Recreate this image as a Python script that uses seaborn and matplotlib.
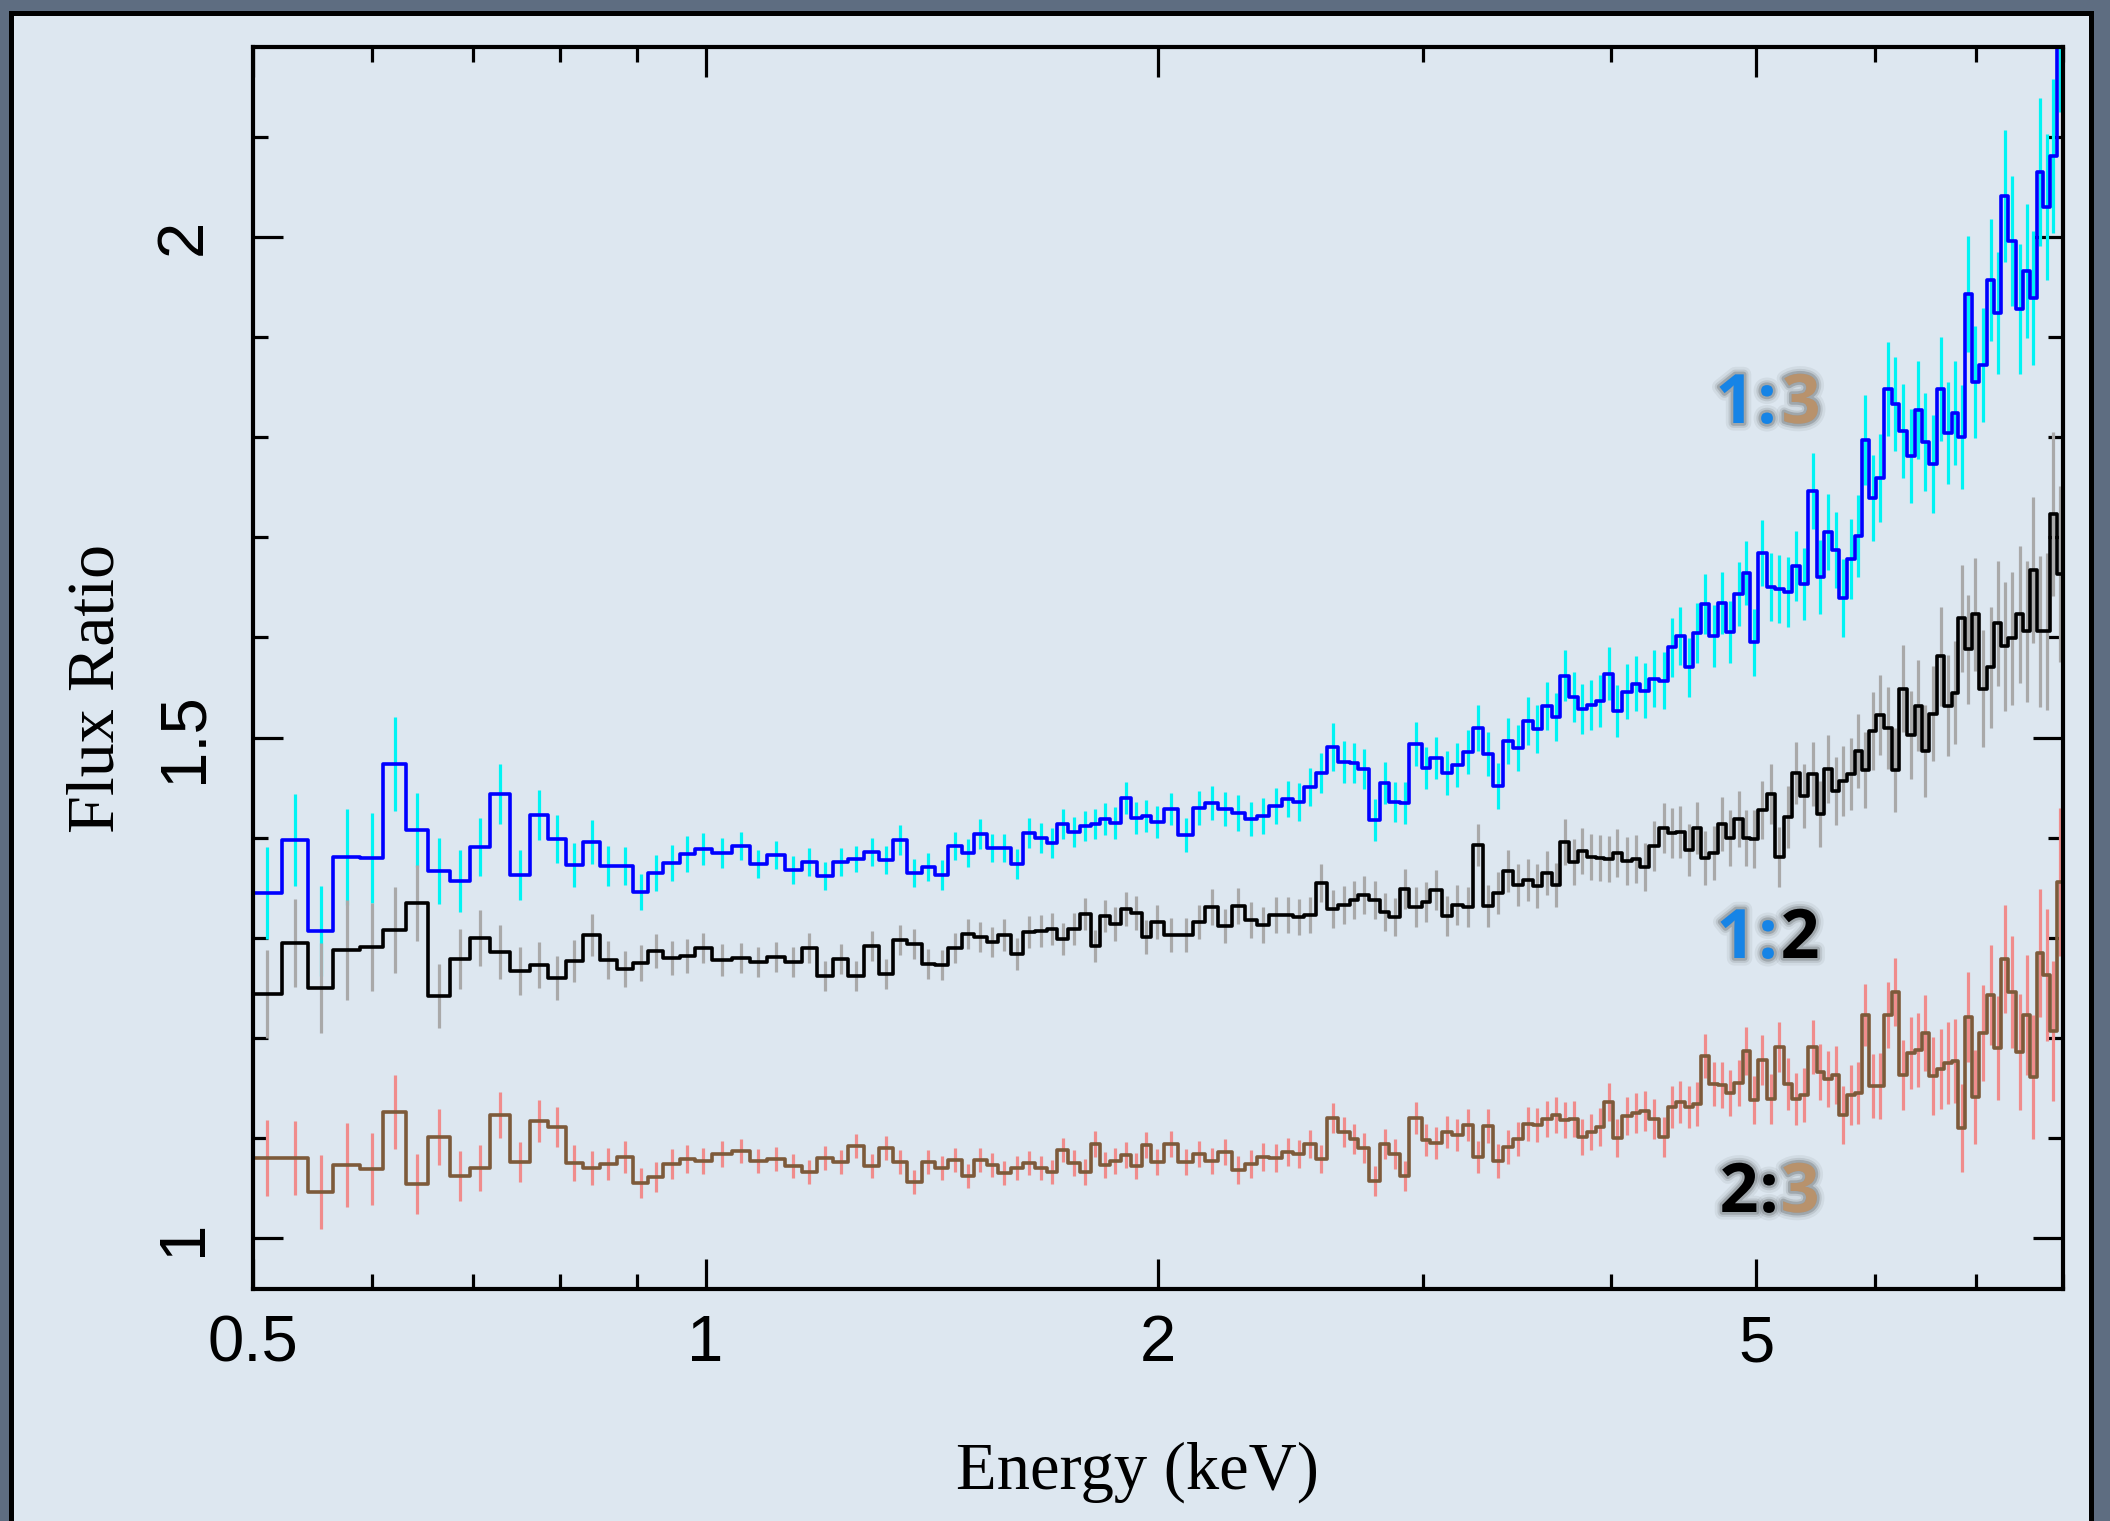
import numpy as np
import matplotlib
matplotlib.use("Agg")
import matplotlib.pyplot as plt
import seaborn as sns
from matplotlib import font_manager
from matplotlib.patches import Rectangle
from matplotlib import patheffects as pe
from matplotlib.ticker import FixedLocator, FixedFormatter, NullFormatter

# ---------------------------------------------------------------- data
# bin edges of the grouped spectra (keV)
edges_kev = [
    0.5000, 0.5225, 0.5442, 0.5655, 0.5891, 0.6105, 0.6321, 0.6540, 0.6761, 0.6972,
    0.7189, 0.7412, 0.7643, 0.7853, 0.8072, 0.8292, 0.8508, 0.8728, 0.8953, 0.9161,
    0.9374, 0.9617, 0.9840, 1.0100,
    1.0410, 1.0705, 1.0983, 1.1295, 1.1587, 1.1867, 1.2163, 1.2445, 1.2754, 1.3044,
    1.3334, 1.3622, 1.3926, 1.4212, 1.4505, 1.4805, 1.5088, 1.5383, 1.5645, 1.5960,
    1.6271, 1.6565, 1.6864, 1.7141, 1.7432, 1.7748, 1.8040, 1.8300, 1.8582, 1.8889,
    1.9180, 1.9506, 1.9777, 2.0185,
    2.0632, 2.1092, 2.1493, 2.1936, 2.2390, 2.2852, 2.3264, 2.3718, 2.4174, 2.4606,
    2.5014, 2.5466, 2.5898, 2.6362, 2.6838, 2.7182, 2.7644, 2.8102, 2.8504, 2.8974,
    2.9392, 2.9956, 3.0338, 3.0888, 3.1364, 3.1896, 3.2388, 3.2918, 3.3396, 3.3942,
    3.4468, 3.4968, 3.5508, 3.5998, 3.6554, 3.7020, 3.7552, 3.8072, 3.8568, 3.9122,
    3.9630,
    4.0172, 4.0692, 4.1320, 4.1848, 4.2448, 4.3104, 4.3664, 4.4220, 4.4836, 4.5408,
    4.5948, 4.6536, 4.7180, 4.7740, 4.8352, 4.8980, 4.9532, 5.0164, 5.0812, 5.1464,
    5.2176, 5.2792, 5.3472, 5.4156, 5.4860, 5.5472, 5.6132, 5.6792, 5.7488, 5.8172,
    5.8772, 5.9460, 6.0072, 6.0812, 6.1532, 6.2228, 6.2964, 6.3768, 6.4428, 6.5180,
    6.5928, 6.6700, 6.7456, 6.8140, 6.8844, 6.9560, 7.0372, 7.1180, 7.2008, 7.2756,
    7.3568, 7.4440, 7.5280, 7.6056, 7.6844, 7.7616, 7.8420, 7.9232, 8.0000,
]

# flux ratio of observation 1 to observation 3
ratio_13 = [
    1.345, 1.398, 1.307, 1.381, 1.380, 1.474, 1.408, 1.367, 1.357, 1.391,
    1.444, 1.363, 1.423, 1.399, 1.373, 1.396, 1.372, 1.372, 1.346, 1.365,
    1.375, 1.384, 1.389,
    1.385, 1.392, 1.374, 1.383, 1.368, 1.376, 1.362, 1.376, 1.379, 1.386,
    1.378, 1.398, 1.365, 1.371, 1.363, 1.392, 1.385, 1.404, 1.390, 1.390,
    1.374, 1.405, 1.400, 1.395, 1.414, 1.406, 1.412, 1.414, 1.419, 1.415,
    1.440, 1.420, 1.422, 1.416,
    1.429, 1.403, 1.430, 1.435, 1.429, 1.425, 1.419, 1.422, 1.432, 1.439,
    1.436, 1.451, 1.465, 1.491, 1.476, 1.475, 1.469, 1.418, 1.455, 1.436,
    1.435, 1.494, 1.470, 1.480, 1.465, 1.473, 1.486, 1.510, 1.484, 1.452,
    1.497, 1.490, 1.517, 1.509, 1.532, 1.521, 1.562, 1.541, 1.529, 1.533,
    1.537,
    1.564, 1.527, 1.546, 1.554, 1.547, 1.559, 1.557, 1.590, 1.601, 1.570,
    1.604, 1.633, 1.601, 1.634, 1.605, 1.643, 1.664, 1.595, 1.684, 1.650,
    1.648, 1.645, 1.671, 1.653, 1.746, 1.660, 1.705, 1.687, 1.639, 1.678,
    1.701, 1.797, 1.739, 1.759, 1.848, 1.833, 1.806, 1.781, 1.827, 1.795,
    1.773, 1.848, 1.804, 1.824, 1.800, 1.943, 1.855, 1.872, 1.957, 1.924,
    2.041, 1.996, 1.928, 1.966, 1.939, 2.065, 2.030, 2.081, 2.210,
]
err_13 = [
    0.046, 0.046, 0.045, 0.048, 0.045, 0.047, 0.037, 0.033, 0.031, 0.029,
    0.030, 0.025, 0.025, 0.024, 0.022, 0.022, 0.020, 0.019, 0.018, 0.018,
    0.018, 0.018, 0.016,
    0.015, 0.014, 0.014, 0.014, 0.014, 0.014, 0.014, 0.014, 0.013, 0.014,
    0.014, 0.015, 0.014, 0.014, 0.015, 0.014, 0.014, 0.015, 0.014, 0.014,
    0.015, 0.015, 0.015, 0.015, 0.015, 0.015, 0.015, 0.015, 0.016, 0.016,
    0.016, 0.016, 0.016, 0.016,
    0.016, 0.017, 0.017, 0.017, 0.017, 0.018, 0.017, 0.018, 0.018, 0.018,
    0.019, 0.019, 0.020, 0.024, 0.021, 0.020, 0.020, 0.021, 0.021, 0.020,
    0.021, 0.022, 0.021, 0.021, 0.022, 0.022, 0.022, 0.023, 0.022, 0.023,
    0.023, 0.023, 0.024, 0.024, 0.024, 0.024, 0.025, 0.025, 0.025, 0.025,
    0.026,
    0.026, 0.026, 0.027, 0.027, 0.027, 0.028, 0.028, 0.029, 0.029, 0.029,
    0.030, 0.030, 0.031, 0.031, 0.031, 0.032, 0.032, 0.033, 0.033, 0.034,
    0.034, 0.035, 0.035, 0.036, 0.038, 0.037, 0.038, 0.038, 0.039, 0.040,
    0.041, 0.045, 0.043, 0.044, 0.047, 0.047, 0.047, 0.047, 0.049, 0.049,
    0.049, 0.052, 0.051, 0.052, 0.052, 0.058, 0.056, 0.057, 0.061, 0.061,
    0.066, 0.065, 0.065, 0.067, 0.067, 0.074, 0.073, 0.077, 0.085,
]

# flux ratio of observation 1 to observation 2
ratio_12 = [
    1.244, 1.295, 1.250, 1.288, 1.291, 1.308, 1.335, 1.242, 1.279, 1.300,
    1.286, 1.267, 1.273, 1.260, 1.277, 1.303, 1.278, 1.269, 1.275, 1.287,
    1.280, 1.282, 1.290,
    1.278, 1.280, 1.276, 1.281, 1.276, 1.290, 1.262, 1.279, 1.262, 1.292,
    1.264, 1.298, 1.294, 1.274, 1.273, 1.290, 1.304, 1.301, 1.296, 1.303,
    1.284, 1.306, 1.307, 1.309, 1.299, 1.309, 1.324, 1.292, 1.322, 1.314,
    1.329, 1.325, 1.301, 1.316,
    1.303, 1.303, 1.316, 1.331, 1.312, 1.332, 1.318, 1.313, 1.323, 1.323,
    1.321, 1.323, 1.355, 1.329, 1.333, 1.338, 1.343, 1.338, 1.326, 1.321,
    1.349, 1.331, 1.336, 1.348, 1.322, 1.333, 1.331, 1.393, 1.332, 1.345,
    1.367, 1.353, 1.358, 1.352, 1.365, 1.353, 1.396, 1.376, 1.387, 1.381,
    1.380,
    1.379, 1.385, 1.377, 1.379, 1.371, 1.392, 1.410, 1.405, 1.406, 1.388,
    1.410, 1.380, 1.385, 1.414, 1.400, 1.419, 1.400, 1.399, 1.428, 1.444,
    1.381, 1.421, 1.465, 1.442, 1.464, 1.424, 1.469, 1.447, 1.457, 1.464,
    1.487, 1.468, 1.507, 1.523, 1.510, 1.468, 1.549, 1.503, 1.532, 1.487,
    1.524, 1.581, 1.532, 1.545, 1.619, 1.588, 1.623, 1.549, 1.570, 1.614,
    1.591, 1.599, 1.623, 1.606, 1.667, 1.606, 1.606, 1.723, 1.663,
]
err_12 = [
    0.044, 0.044, 0.045, 0.050, 0.044, 0.043, 0.038, 0.032, 0.030, 0.028,
    0.027, 0.024, 0.023, 0.022, 0.021, 0.021, 0.019, 0.018, 0.018, 0.017,
    0.017, 0.017, 0.015,
    0.016, 0.015, 0.015, 0.015, 0.015, 0.015, 0.015, 0.015, 0.015, 0.015,
    0.015, 0.015, 0.015, 0.015, 0.015, 0.015, 0.015, 0.015, 0.015, 0.016,
    0.016, 0.016, 0.016, 0.016, 0.016, 0.016, 0.016, 0.016, 0.016, 0.017,
    0.017, 0.017, 0.017, 0.017,
    0.017, 0.017, 0.017, 0.018, 0.017, 0.018, 0.018, 0.018, 0.018, 0.018,
    0.018, 0.018, 0.019, 0.019, 0.019, 0.019, 0.019, 0.019, 0.019, 0.019,
    0.020, 0.020, 0.020, 0.020, 0.020, 0.020, 0.020, 0.021, 0.021, 0.021,
    0.021, 0.021, 0.021, 0.022, 0.022, 0.022, 0.023, 0.023, 0.023, 0.023,
    0.023,
    0.023, 0.024, 0.024, 0.024, 0.024, 0.025, 0.025, 0.025, 0.026, 0.026,
    0.026, 0.027, 0.027, 0.027, 0.028, 0.028, 0.028, 0.029, 0.029, 0.030,
    0.030, 0.031, 0.031, 0.032, 0.032, 0.033, 0.034, 0.034, 0.035, 0.036,
    0.037, 0.038, 0.039, 0.040, 0.041, 0.042, 0.043, 0.044, 0.045, 0.046,
    0.047, 0.049, 0.050, 0.051, 0.053, 0.054, 0.056, 0.058, 0.060, 0.062,
    0.064, 0.066, 0.068, 0.070, 0.073, 0.075, 0.078, 0.082, 0.088,
]

# flux ratio of observation 2 to observation 3
ratio_23 = [
    1.080, 1.080, 1.046, 1.073, 1.069, 1.126, 1.054, 1.101, 1.062, 1.070,
    1.123, 1.076, 1.117, 1.111, 1.075, 1.070, 1.074, 1.081, 1.055, 1.061,
    1.074, 1.079, 1.077,
    1.084, 1.087, 1.077, 1.079, 1.072, 1.066, 1.080, 1.076, 1.092, 1.072,
    1.090, 1.076, 1.056, 1.076, 1.070, 1.078, 1.062, 1.078, 1.073, 1.065,
    1.070, 1.075, 1.070, 1.066, 1.088, 1.075, 1.066, 1.094, 1.073, 1.077,
    1.083, 1.072, 1.093, 1.076,
    1.094, 1.076, 1.084, 1.077, 1.086, 1.068, 1.074, 1.081, 1.080, 1.086,
    1.084, 1.094, 1.079, 1.120, 1.106, 1.099, 1.090, 1.057, 1.094, 1.084,
    1.062, 1.120, 1.098, 1.095, 1.106, 1.103, 1.113, 1.081, 1.112, 1.077,
    1.091, 1.099, 1.114, 1.113, 1.119, 1.123, 1.118, 1.119, 1.101, 1.106,
    1.111,
    1.136, 1.100, 1.122, 1.125, 1.127, 1.119, 1.101, 1.131, 1.136, 1.131,
    1.134, 1.182, 1.154, 1.153, 1.145, 1.155, 1.187, 1.138, 1.178, 1.139,
    1.191, 1.154, 1.139, 1.143, 1.191, 1.166, 1.159, 1.163, 1.123, 1.143,
    1.145, 1.223, 1.152, 1.152, 1.223, 1.246, 1.163, 1.185, 1.188, 1.205,
    1.162, 1.169, 1.175, 1.177, 1.110, 1.221, 1.141, 1.205, 1.243, 1.190,
    1.279, 1.246, 1.186, 1.223, 1.161, 1.285, 1.263, 1.207, 1.356,
]
err_23 = [
    0.038, 0.037, 0.037, 0.042, 0.036, 0.037, 0.030, 0.028, 0.025, 0.023,
    0.023, 0.020, 0.021, 0.020, 0.018, 0.017, 0.016, 0.016, 0.015, 0.015,
    0.015, 0.014, 0.013,
    0.013, 0.012, 0.012, 0.012, 0.012, 0.012, 0.012, 0.012, 0.012, 0.012,
    0.012, 0.012, 0.012, 0.012, 0.012, 0.012, 0.012, 0.012, 0.012, 0.012,
    0.012, 0.012, 0.012, 0.012, 0.012, 0.013, 0.013, 0.013, 0.013, 0.013,
    0.013, 0.013, 0.013, 0.013,
    0.013, 0.013, 0.013, 0.013, 0.013, 0.014, 0.014, 0.014, 0.014, 0.014,
    0.014, 0.014, 0.014, 0.015, 0.015, 0.015, 0.015, 0.015, 0.015, 0.015,
    0.015, 0.016, 0.016, 0.016, 0.016, 0.016, 0.016, 0.016, 0.017, 0.017,
    0.017, 0.017, 0.017, 0.017, 0.018, 0.018, 0.018, 0.018, 0.018, 0.018,
    0.019,
    0.019, 0.019, 0.019, 0.020, 0.020, 0.020, 0.020, 0.021, 0.021, 0.021,
    0.022, 0.022, 0.022, 0.023, 0.023, 0.023, 0.024, 0.024, 0.025, 0.025,
    0.025, 0.026, 0.026, 0.027, 0.027, 0.028, 0.028, 0.029, 0.029, 0.030,
    0.031, 0.031, 0.032, 0.033, 0.033, 0.034, 0.035, 0.036, 0.037, 0.038,
    0.039, 0.040, 0.041, 0.042, 0.044, 0.045, 0.047, 0.048, 0.050, 0.052,
    0.054, 0.056, 0.058, 0.060, 0.062, 0.064, 0.066, 0.070, 0.074,
]

x_major_ticks = [0.5, 1, 2, 5]
x_major_labels = ["0.5", "1", "2", "5"]
x_minor_ticks = [0.6, 0.7, 0.8, 0.9, 3, 4, 6, 7, 8]
y_major_ticks = [1.0, 1.5, 2.0]
y_major_labels = ["1", "1.5", "2"]
y_minor_ticks = [1.1, 1.2, 1.3, 1.4, 1.6, 1.7, 1.8, 1.9, 2.1]

x_label = "Energy (keV)"
y_label = "Flux Ratio"

for name, arr in [("ratio_13", ratio_13), ("err_13", err_13), ("ratio_12", ratio_12),
                  ("err_12", err_12), ("ratio_23", ratio_23), ("err_23", err_23)]:
    if len(arr) != len(edges_kev) - 1:
        raise ValueError(f"{name} has {len(arr)} bins, expected {len(edges_kev) - 1}")

# ---------------------------------------------------------------- style
sns.set_theme(style="ticks")
available = {f.name for f in font_manager.fontManager.ttflist}
tick_font = "Liberation Sans Narrow" if "Liberation Sans Narrow" in available else "Liberation Sans"
label_font = "Liberation Serif"
plt.rcParams["font.family"] = [tick_font, "DejaVu Sans"]

PANEL = "#dde7f0"
FRAME = "#5e6d81"
BLUE_TXT = "#1684e6"
TAN_TXT = "#b8926c"

W, H = 2110, 1521
fig = plt.figure(figsize=(W / 100, H / 100), dpi=100)
fig.patch.set_facecolor(FRAME)

# light slide panel with its dark outline, kept behind the axes
panel = Rectangle((10.5 / W, -0.05), (2091 - 10.5) / W, 1.05 - 12.5 / H,
                  transform=fig.transFigure, facecolor=PANEL, edgecolor="black",
                  linewidth=3.6, zorder=-5)
fig.patches.append(panel)

ax = fig.add_axes([253 / W, 1 - 1289 / H, 1810 / W, 1242 / H])
ax.set_zorder(1)
ax.set_facecolor(PANEL)
ax.set_xscale("log")

edges = np.asarray(edges_kev)
centers = np.sqrt(edges[:-1] * edges[1:])

series = [
    (ratio_13, err_13, "#0000ff", "#00f4f4", 1),
    (ratio_12, err_12, "#000000", "#a9a9a9", 3),
    (ratio_23, err_23, "#7d5a3a", "#f08c8c", 5),
]
for vals, errs, line_c, err_c, z in series:
    vals = np.asarray(vals)
    errs = np.asarray(errs)
    ax.vlines(centers, vals - errs, vals + errs, colors=err_c, linewidth=2.3, zorder=z)
    sns.lineplot(x=edges, y=np.append(vals, vals[-1]), drawstyle="steps-post",
                 color=line_c, linewidth=2.6, estimator=None, sort=False,
                 ax=ax, zorder=z + 0.5, legend=False)

ax.set_xlim(0.5, 8.0)
ax.set_ylim(0.949, 2.19)

ax.xaxis.set_major_locator(FixedLocator(x_major_ticks))
ax.xaxis.set_major_formatter(FixedFormatter(x_major_labels))
ax.xaxis.set_minor_locator(FixedLocator(x_minor_ticks))
ax.xaxis.set_minor_formatter(NullFormatter())
ax.yaxis.set_major_locator(FixedLocator(y_major_ticks))
ax.yaxis.set_major_formatter(FixedFormatter(y_major_labels))
ax.yaxis.set_minor_locator(FixedLocator(y_minor_ticks))
ax.yaxis.set_minor_formatter(NullFormatter())

ax.tick_params(which="major", direction="in", length=21.5, width=2.3,
               top=True, right=True, colors="black", labelsize=47)
ax.tick_params(which="minor", direction="in", length=11, width=2.3,
               top=True, right=True, colors="black")
ax.tick_params(axis="x", which="major", pad=18)
ax.tick_params(axis="y", which="major", pad=28)
for lab in ax.get_yticklabels():
    lab.set_rotation(90)
    lab.set_va("center")
for sp in ax.spines.values():
    sp.set_color("black")
    sp.set_linewidth(3.0)
    sp.set_zorder(10)
ax.set_xlabel("")
ax.set_ylabel("")
ax.grid(False)

fig.text(1137 / W, 1 - 1472 / H, x_label, family=[label_font, "DejaVu Serif"],
         fontsize=48, ha="center", va="center", color="black")
fig.text(97 / W, 1 - 688 / H, y_label, family=[label_font, "DejaVu Serif"],
         fontsize=49, ha="center", va="center", rotation=90, color="black")

# ratio tags, one glyph at a time so each digit keeps its own colour
glow = [pe.Stroke(linewidth=11, foreground="black", alpha=0.05),
        pe.Stroke(linewidth=7, foreground="black", alpha=0.09),
        pe.Stroke(linewidth=4, foreground="black", alpha=0.16),
        pe.Normal()]
tags = [
    (423, [("1", 1735, BLUE_TXT), (":", 1767, BLUE_TXT), ("3", 1801, TAN_TXT)]),
    (958, [("1", 1736, BLUE_TXT), (":", 1768, BLUE_TXT), ("2", 1800, "black")]),
    (1212, [("2", 1739, "black"), (":", 1769, "black"), ("3", 1800, TAN_TXT)]),
]
for baseline, glyphs in tags:
    for ch, xpx, col in glyphs:
        fig.text(xpx / W, 1 - baseline / H, ch, family=["Open Sans", "DejaVu Sans"],
                 fontweight="bold", fontsize=49, color=col, ha="center",
                 va="baseline", path_effects=glow, zorder=20)

fig.savefig("out.png", dpi=100, facecolor=fig.get_facecolor())
